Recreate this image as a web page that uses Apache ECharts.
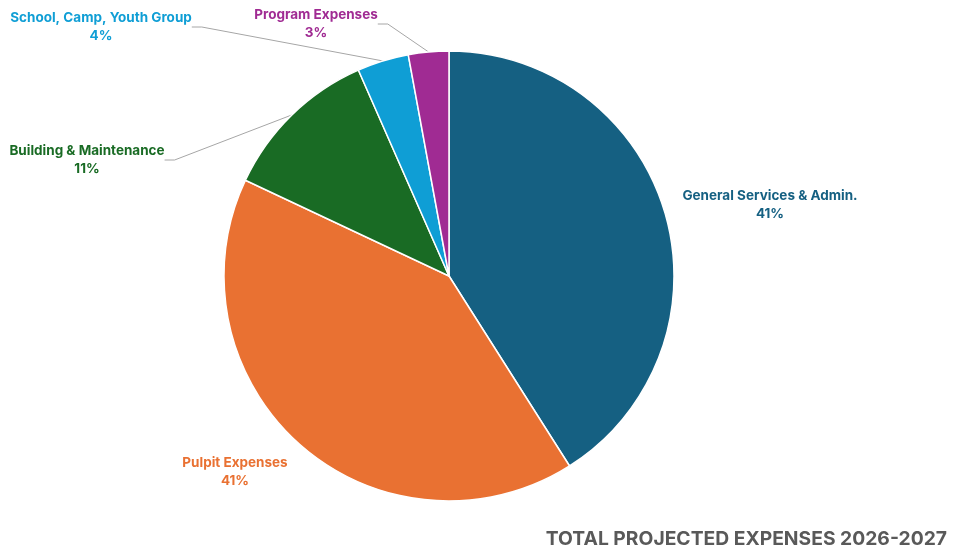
<!DOCTYPE html>
<html>
<head>
<meta charset="utf-8">
<script src="https://cdn.jsdelivr.net/npm/echarts@6/dist/echarts.min.js"></script>
<style>html,body{margin:0;padding:0;background:#fff}#c{width:965px;height:556px}</style>
</head>
<body>
<div id="c"></div>
<script>
const categories = ['General Services & Admin.', 'Pulpit Expenses', 'Building & Maintenance', 'School, Camp, Youth Group', 'Program Expenses'];
const values = [41.0, 41.0, 11.4, 3.7, 2.9];
const colors = ['#156082', '#E97132', '#196B24', '#0F9ED5', '#A02B93'];
const labelPos = [[770, 205], [235, 472], [87, 160], [101, 27], [316, 24]];
const showLine = [false, false, true, true, true];
const titleText = 'TOTAL PROJECTED EXPENSES 2026-2027';

const chart = echarts.init(document.getElementById('c'), null, {renderer: 'canvas'});
chart.setOption({
  animation: false,
  title: {
    text: titleText, right: 13, bottom: 2,
    textStyle: {fontFamily: 'Inter', fontWeight: 'bold', fontSize: 19.3, color: '#595959'}
  },
  series: [{
    type: 'pie',
    center: [449, 276],
    radius: 225,
    startAngle: 90,
    clockwise: true,
    data: categories.map((n, i) => ({
      name: n, value: values[i],
      itemStyle: {color: colors[i]},
      label: {color: colors[i]},
      labelLine: {show: showLine[i]}
    })),
    itemStyle: {borderColor: '#fff', borderWidth: 1.5},
    label: {
      show: true, position: 'outside',
      fontFamily: 'Inter', fontWeight: 'bold', fontSize: 13.5, lineHeight: 18,
      align: 'center',
      formatter: p => p.name + '\n' + Math.round(p.percent) + '%'
    },
    labelLine: {show: true, length: 10, length2: 10, lineStyle: {color: '#a6a6a6', width: 1}},
    labelLayout: function (params) {
      const p = labelPos[params.dataIndex];
      return {x: p[0], y: p[1], align: 'center', verticalAlign: 'middle'};
    },
    emphasis: {disabled: true}
  }]
});
</script>
</body>
</html>
